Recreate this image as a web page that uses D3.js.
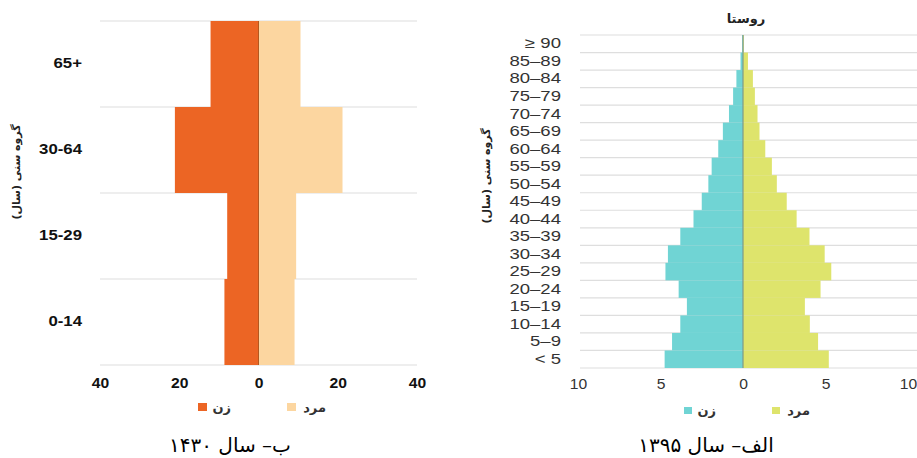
<!DOCTYPE html>
<html><head><meta charset="utf-8">
<script src="https://cdn.jsdelivr.net/npm/d3@7"></script>
<style>body{margin:0;background:#fff}svg{display:block}</style>
</head><body>
<svg id="c" width="917" height="458"></svg>
<script>
// Left panel (ب – سال ۱۴۳۰)
const leftAges = ["65+", "30-64", "15-29", "0-14"];
const leftWomen = [12.1, 21.1, 7.9, 8.6];
const leftMen = [10.6, 21.2, 9.5, 9.1];
const leftTicks = [-40, -20, 0, 20, 40];

// Right panel (الف – سال ۱۳۹۵، روستا)
const rightAges = ["≥ 90","85–89","80–84","75–79","70–74","65–69","60–64","55–59","50–54","45–49","40–44","35–39","30–34","25–29","20–24","15–19","10–14","5–9","< 5"];
const rightWomen = [0.05,0.15,0.4,0.6,0.85,1.22,1.5,1.9,2.1,2.5,3.0,3.8,4.55,4.7,3.9,3.4,3.8,4.3,4.75];
const rightMen = [0.05,0.3,0.6,0.72,0.88,1.0,1.35,1.75,2.05,2.65,3.25,4.03,4.95,5.35,4.7,3.75,4.05,4.55,5.2];
const rightTicks = [-10, -5, 0, 5, 10];

const svg = d3.select("#c");

function panel(o) {
  const g = svg.append("g");
  const x = d3.scaleLinear().domain(o.domain).range(o.xr);
  const y = d3.scaleBand().domain(o.ages).range(o.yr).padding(0);
  const bounds = o.ages.map(a => y(a)).concat([y.range()[1]]);
  g.selectAll(".grid").data(bounds).join("line")
    .attr("x1", o.gx[0]).attr("x2", o.gx[1])
    .attr("y1", d => d).attr("y2", d => d)
    .attr("stroke", "#dedede").attr("stroke-width", 1.2);
  g.selectAll(".w").data(o.ages).join("rect")
    .attr("x", (d, i) => x(-o.women[i])).attr("width", (d, i) => x(0) - x(-o.women[i]))
    .attr("y", d => y(d)).attr("height", y.bandwidth())
    .attr("fill", o.wc);
  g.selectAll(".m").data(o.ages).join("rect")
    .attr("x", x(0)).attr("width", (d, i) => x(o.men[i]) - x(0))
    .attr("y", d => y(d)).attr("height", y.bandwidth())
    .attr("fill", o.mc);
  g.append("line").attr("x1", x(0)).attr("x2", x(0))
    .attr("y1", o.yr[0]).attr("y2", o.yr[1])
    .attr("stroke", o.cl).attr("stroke-width", o.clw);
  const xa = d3.axisBottom(x).tickValues(o.ticks).tickFormat(d => Math.abs(d)).tickSize(0).tickPadding(0);
  const xg = g.append("g").attr("transform", `translate(0,${o.xAxisY})`).call(xa);
  xg.select(".domain").remove();
  xg.selectAll("text").attr("font-family", "Liberation Sans, Arial, sans-serif")
    .attr("font-size", o.tfs).attr("font-weight", o.tfw).attr("fill", o.tcol).attr("dy", 0)
    .attr("transform", "scale(1.12,1)");
  const ya = d3.axisLeft(y).tickSize(0).tickPadding(0);
  const yg = g.append("g").attr("transform", `translate(${o.yAxisX},0)`).call(ya);
  yg.select(".domain").remove();
  yg.selectAll("text").attr("font-family", "Liberation Sans, Arial, sans-serif")
    .attr("font-size", o.lfs).attr("font-weight", o.tfw).attr("fill", o.tcol)
    .attr("transform", `scale(${o.lsx},1)`);
  g.append("text").attr("transform", `translate(${o.ytX},${o.ytY}) rotate(-90)`)
    .attr("text-anchor", "middle").attr("font-family", "DejaVu Sans, sans-serif")
    .attr("font-size", 11).attr("font-weight", "bold").attr("fill", "#222")
    .text("گروه سنی (سال)");
  const lg = g.append("g");
  o.legend.forEach(l => {
    lg.append("rect").attr("x", l.x).attr("y", l.y).attr("width", l.s).attr("height", l.s - 1).attr("fill", l.c);
    lg.append("text").attr("x", l.x + l.s + 2 + l.tw).attr("y", l.y + l.s)
      .attr("font-family", "DejaVu Sans, sans-serif").attr("font-size", 13).attr("font-weight", "bold")
      .attr("fill", "#333").attr("text-anchor", "end").text(l.t);
  });
  g.append("text").attr("x", o.capX).attr("y", 452).attr("text-anchor", "middle")
    .attr("font-family", "DejaVu Sans, sans-serif").attr("font-size", 20).attr("fill", "#000")
    .attr("direction", "rtl").text(o.cap);
  return g;
}

panel({
  ages: leftAges, women: leftWomen, men: leftMen, ticks: leftTicks,
  domain: [-40, 40], xr: [100, 417], yr: [21, 365], gx: [100, 417],
  wc: "#ec6524", mc: "#fcd6a0", cl: "#b3581f", clw: 1,
  xAxisY: 388, yAxisX: 82, tfs: 14, lfs: 14, lsx: 1.2, tfw: "bold", tcol: "#111",
  ytX: 20, ytY: 172,
  legend: [
    {x: 198, y: 403, s: 9, c: "#ec6524", t: "زن", tw: 22},
    {x: 287, y: 403, s: 9, c: "#fcd6a0", t: "مرد", tw: 28}
  ],
  cap: "ب– سال ۱۴۳۰", capX: 230
});

const rg = panel({
  ages: rightAges, women: rightWomen, men: rightMen, ticks: rightTicks,
  domain: [-10, 10], xr: [578, 908], yr: [35, 368], gx: [580, 917],
  wc: "#70d4d4", mc: "#dee46c", cl: "#7f9a86", clw: 1.2,
  xAxisY: 389, yAxisX: 561, tfs: 14, lfs: 14.5, lsx: 1.28, tfw: "normal", tcol: "#333",
  ytX: 490, ytY: 176,
  legend: [
    {x: 684, y: 407, s: 8, c: "#70d4d4", t: "زن", tw: 22},
    {x: 772, y: 407, s: 8, c: "#dee46c", t: "مرد", tw: 28}
  ],
  cap: "الف– سال ۱۳۹۵", capX: 706
});
rg.append("text").attr("x", 746).attr("y", 23).attr("text-anchor", "middle")
  .attr("font-family", "DejaVu Sans, sans-serif").attr("font-size", 13).attr("font-weight", "bold")
  .attr("fill", "#222").text("روستا");
</script>
</body></html>
